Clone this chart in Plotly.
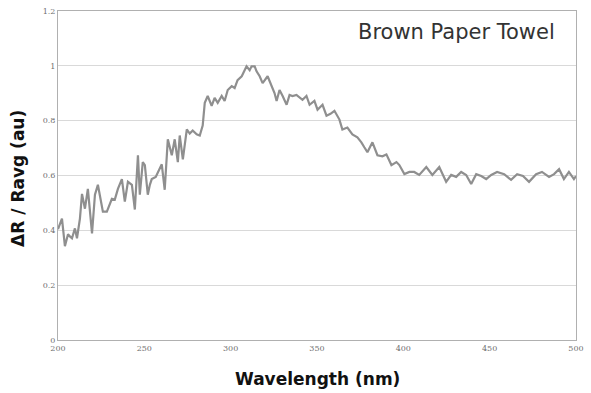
import plotly.graph_objects as go

wavelength_nm = [
    200.0, 202.3, 204.0, 205.8, 206.9, 208.1, 209.8, 211.0, 212.7, 213.9,
    215.6, 217.3, 219.7, 221.4, 223.1, 226.0, 228.3, 231.2, 232.9, 234.7,
    237.0, 238.7, 240.5, 242.8, 244.5, 246.3, 247.4, 249.1, 250.3, 252.0,
    253.2, 254.3, 256.6, 260.1, 261.8, 263.6, 265.9, 267.6, 269.4, 270.5,
    272.3, 274.6, 276.3, 278.0, 280.3, 282.1, 283.8, 285.0, 286.7, 289.0,
    290.7, 292.5, 294.8, 296.5, 298.3, 300.6, 302.3, 304.0, 306.4, 308.1,
    309.2, 311.0, 312.1, 313.9, 315.0, 316.8, 318.5, 321.4, 323.7, 325.4,
    326.6, 328.3, 330.1, 332.4, 334.1, 335.8, 338.1, 339.9, 341.6, 343.9,
    345.7, 348.5, 350.3, 353.2, 355.5, 357.8, 360.1, 363.0, 364.7, 367.6,
    370.5, 373.4, 375.7, 377.4, 379.2, 382.1, 385.0, 387.9, 390.2, 393.1,
    396.0, 397.7, 400.6, 403.5, 406.3, 409.2, 413.3, 416.8, 420.8, 424.8,
    427.7, 430.6, 433.5, 436.4, 439.3, 442.2, 445.1, 448.0, 450.9, 454.3,
    458.4, 462.4, 465.9, 469.3, 472.8, 476.9, 480.3, 484.4, 487.3, 490.2,
    493.0, 495.9, 498.8, 500.0,
]

delta_r_over_ravg = [
    0.404, 0.443, 0.342, 0.386, 0.378, 0.371, 0.407, 0.371, 0.443, 0.533,
    0.479, 0.551, 0.389, 0.530, 0.566, 0.468, 0.468, 0.515, 0.512, 0.551,
    0.587, 0.505, 0.577, 0.566, 0.476, 0.674, 0.530, 0.649, 0.638, 0.530,
    0.566, 0.587, 0.595, 0.641, 0.548, 0.732, 0.674, 0.732, 0.649, 0.746,
    0.659, 0.768, 0.753, 0.764, 0.750, 0.746, 0.782, 0.865, 0.890, 0.854,
    0.883, 0.865, 0.890, 0.872, 0.912, 0.926, 0.919, 0.948, 0.962, 0.984,
    0.998, 0.984, 0.998, 0.998, 0.980, 0.962, 0.937, 0.962, 0.926, 0.901,
    0.872, 0.912, 0.890, 0.858, 0.894, 0.890, 0.894, 0.883, 0.876, 0.890,
    0.858, 0.872, 0.840, 0.858, 0.818, 0.825, 0.836, 0.804, 0.768, 0.775,
    0.750, 0.739, 0.721, 0.703, 0.685, 0.721, 0.674, 0.670, 0.677, 0.638,
    0.649, 0.638, 0.605, 0.613, 0.613, 0.602, 0.631, 0.602, 0.631, 0.577,
    0.602, 0.595, 0.613, 0.602, 0.569, 0.605, 0.598, 0.587, 0.602, 0.613,
    0.605, 0.584, 0.605, 0.598, 0.577, 0.605, 0.613, 0.595, 0.605, 0.623,
    0.587, 0.613, 0.587, 0.598,
]

x_tick_vals = [200, 250, 300, 350, 400, 450, 500]
y_tick_vals = [0, 0.2, 0.4, 0.6, 0.8, 1, 1.2]
y_tick_text = ["0", "0.2", "0.4", "0.6", "0.8", "1", "1.2"]

chart_title = "Brown Paper Towel"
x_title = "Wavelength (nm)"
y_title = "ΔR / Ravg (au)"

fig = go.Figure()
fig.add_trace(go.Scatter(
    x=wavelength_nm, y=delta_r_over_ravg, mode="lines",
    line=dict(color="#8f8f8f", width=2.2), showlegend=False,
))

tick_font = dict(family="DejaVu Serif", size=8, color="#707070")
fig.update_layout(
    width=591, height=393,
    margin=dict(l=58, r=14, t=7, b=53),
    paper_bgcolor="white", plot_bgcolor="white",
    xaxis=dict(range=[200, 500], tickvals=x_tick_vals, showgrid=False,
               showline=True, linecolor="#b0b0b0", linewidth=1, mirror=True,
               zeroline=False, tickfont=tick_font, ticks="", ticklen=0),
    yaxis=dict(range=[0, 1.2], tickvals=y_tick_vals, ticktext=y_tick_text,
               showgrid=True, gridcolor="#d9d9d9", gridwidth=1,
               showline=True, linecolor="#b0b0b0", linewidth=1, mirror=True,
               zeroline=False, tickfont=tick_font, ticks=""),
    annotations=[
        dict(text=chart_title, xref="paper", yref="paper", x=0.963, y=0.935,
             xanchor="right", yanchor="middle", showarrow=False,
             font=dict(family="DejaVu Sans", size=21, color="#333333")),
        dict(text="<b>" + x_title + "</b>", xref="paper", yref="paper",
             x=0.501, y=-0.12, xanchor="center", yanchor="middle",
             showarrow=False,
             font=dict(family="DejaVu Sans", size=17, color="#111111")),
        dict(text="<b>" + y_title + "</b>", xref="paper", yref="paper",
             x=-0.077, y=0.49, xanchor="center", yanchor="middle",
             showarrow=False, textangle=-90,
             font=dict(family="DejaVu Sans", size=17, color="#111111")),
    ],
)

fig.write_html("out.html")
